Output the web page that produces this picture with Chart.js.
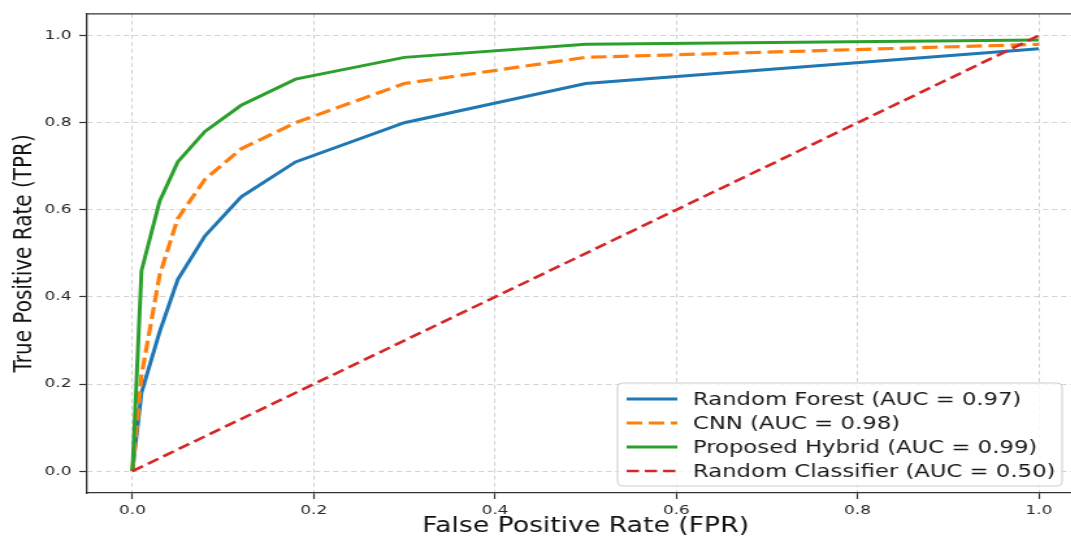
<!DOCTYPE html>
<html>
<head>
<meta charset="utf-8">
<script src="https://cdn.jsdelivr.net/npm/chart.js@4/dist/chart.umd.min.js"></script>
<style>
html,body{margin:0;padding:0;background:#fff;overflow:hidden;width:1071px;height:538px;}
#wrap{position:absolute;left:0;top:0;width:850px;height:538px;transform:scaleX(1.3);transform-origin:0 0;}
</style>
</head>
<body>
<div id="wrap"><canvas id="c"></canvas></div>
<script>
// ---- data ----
const seriesLabels = [
  'Random Forest (AUC = 0.97)',
  'CNN (AUC = 0.98)',
  'Proposed Hybrid (AUC = 0.99)',
  'Random Classifier (AUC = 0.50)'
];
const rfFpr  = [0, 0.01, 0.03, 0.05, 0.08, 0.12, 0.18, 0.30, 0.50, 1.00];
const rfTpr  = [0, 0.18, 0.32, 0.44, 0.54, 0.63, 0.71, 0.80, 0.89, 0.97];
const cnnFpr = [0, 0.01, 0.03, 0.05, 0.08, 0.12, 0.18, 0.30, 0.50, 1.00];
const cnnTpr = [0, 0.22, 0.45, 0.58, 0.67, 0.74, 0.80, 0.89, 0.95, 0.98];
const hybFpr = [0, 0.01, 0.03, 0.05, 0.08, 0.12, 0.18, 0.30, 0.50, 1.00];
const hybTpr = [0, 0.46, 0.62, 0.71, 0.78, 0.84, 0.90, 0.95, 0.98, 0.99];
const randFpr = [0, 1];
const randTpr = [0, 1];
const xTickValues = [0, 0.2, 0.4, 0.6, 0.8, 1.0];
const yTickValues = [0, 0.2, 0.4, 0.6, 0.8, 1.0];
const xTitle = 'False Positive Rate (FPR)';
const yTitle = 'True Positive Rate (TPR)';

const pts = (xs, ys) => xs.map((x, i) => ({x: x, y: ys[i]}));
const FONT = 'DejaVu Sans';

const legendPlugin = {
  id: 'boxLegend',
  afterDraw(chart) {
    const ctx = chart.ctx;
    const ca = chart.chartArea;
    const w = 342, h = 103;
    const left = ca.right - 17 - w;
    const top = ca.bottom - 7 - h;
    ctx.save();
    ctx.beginPath();
    ctx.roundRect(left, top, w, h, 4);
    ctx.fillStyle = 'rgba(255,255,255,0.8)';
    ctx.fill();
    ctx.lineWidth = 1;
    ctx.strokeStyle = '#cccccc';
    ctx.stroke();
    ctx.font = '17.5px "' + FONT + '"';
    ctx.textBaseline = 'middle';
    ctx.textAlign = 'left';
    chart.data.datasets.forEach((ds, i) => {
      const y = top + 16 + i * 24;
      ctx.beginPath();
      ctx.setLineDash(ds.borderDash || []);
      ctx.lineDashOffset = 0;
      ctx.lineWidth = ds.borderWidth;
      ctx.strokeStyle = ds.borderColor;
      ctx.moveTo(left + 7, y);
      ctx.lineTo(left + 46, y);
      ctx.stroke();
      ctx.setLineDash([]);
      ctx.fillStyle = '#1a1a1a';
      ctx.fillText(ds.label, left + 58, y + 1);
    });
    ctx.restore();
  }
};

const framePlugin = {
  id: 'topFrame',
  afterDatasetsDraw(chart) {
    const ctx = chart.ctx;
    const ca = chart.chartArea;
    ctx.save();
    ctx.strokeStyle = '#333333';
    ctx.lineWidth = 1.3;
    ctx.beginPath();
    ctx.moveTo(ca.left, ca.top);
    ctx.lineTo(ca.right, ca.top);
    ctx.lineTo(ca.right, ca.bottom);
    ctx.stroke();
    ctx.restore();
  }
};

const tickFont = {family: FONT, size: 13};

new Chart(document.getElementById('c'), {
  type: 'line',
  data: {
    datasets: [
      {label: seriesLabels[0], data: pts(rfFpr, rfTpr), borderColor: '#1f77b4', borderWidth: 3, order: 4},
      {label: seriesLabels[1], data: pts(cnnFpr, cnnTpr), borderColor: '#ff7f0e', borderWidth: 3.2, borderDash: [12, 5], order: 3},
      {label: seriesLabels[2], data: pts(hybFpr, hybTpr), borderColor: '#2ca02c', borderWidth: 3, order: 2},
      {label: seriesLabels[3], data: pts(randFpr, randTpr), borderColor: '#d62728', borderWidth: 2.6, borderDash: [9.5, 4.5], order: 1}
    ]
  },
  options: {
    responsive: true,
    maintainAspectRatio: false,
    devicePixelRatio: 1,
    animation: false,
    elements: {point: {radius: 0, hoverRadius: 0}, line: {tension: 0, fill: false, borderCapStyle: 'butt'}},
    layout: {padding: {top: 13, right: 16, left: 0, bottom: 0}},
    plugins: {legend: {display: false}, tooltip: {enabled: false}},
    scales: {
      x: {
        type: 'linear', min: -0.05, max: 1.05,
        afterBuildTicks: s => { s.ticks = xTickValues.map(v => ({value: v})); },
        afterFit: s => { s.height = 45; },
        ticks: {callback: v => Number(v).toFixed(1), font: tickFont, color: '#262626', padding: 4, maxRotation: 0, autoSkip: false},
        grid: {color: '#d2d2d2', lineWidth: 1, tickLength: 6, tickColor: '#333333', tickWidth: 1.2},
        border: {display: true, color: '#333333', width: 1.3, dash: [4, 3]},
        title: {display: true, text: xTitle, color: '#111111', font: {family: FONT, size: 20.5, lineHeight: 1}, padding: {top: 0, bottom: 1}}
      },
      y: {
        type: 'linear', min: -0.05, max: 1.05,
        afterBuildTicks: s => { s.ticks = yTickValues.map(v => ({value: v})); },
        afterFit: s => { s.width = 67; },
        ticks: {callback: v => Number(v).toFixed(1), font: tickFont, color: '#262626', padding: 6, autoSkip: false},
        grid: {color: '#d2d2d2', lineWidth: 1, tickLength: 6, tickColor: '#333333', tickWidth: 1.2},
        border: {display: true, color: '#333333', width: 1.3, dash: [4, 3]},
        title: {display: true, text: yTitle, color: '#111111', font: {family: FONT, size: 20}, padding: {top: 7, bottom: 0}}
      }
    }
  },
  plugins: [legendPlugin, framePlugin]
});
</script>
</body>
</html>
